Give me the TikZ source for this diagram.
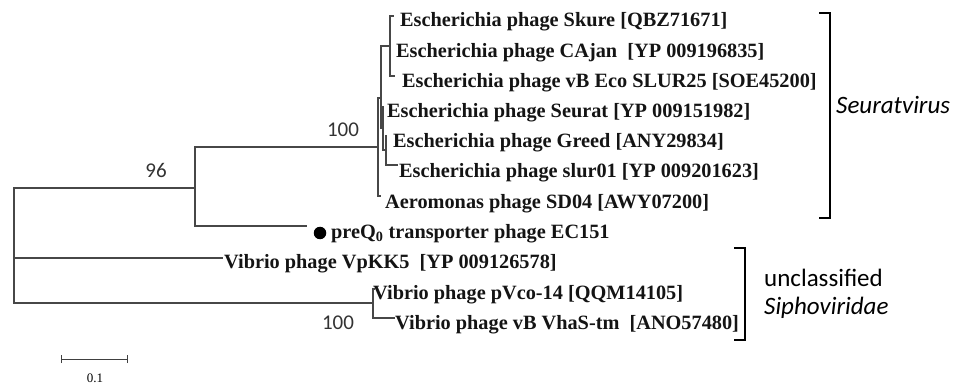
\documentclass[tikz,border=0pt]{standalone}
\usepackage{fontspec}
\setmainfont{Liberation Serif}
\newfontfamily\calfont{Carlito}
\begin{document}
\begin{tikzpicture}[x=1pt,y=-1pt,
  branch/.style={line width=1.1pt, draw=black!72},
  leaf/.style={anchor=west, inner sep=0pt, font=\fontsize{20.3}{22}\selectfont\bfseries, text=black!92},
  boot/.style={inner sep=0pt, font=\calfont\fontsize{21}{23}\selectfont, text=black!80},
  clade/.style={anchor=west, inner sep=0pt, font=\calfont\fontsize{25}{27}\selectfont, text=black},
  brk/.style={line width=2.6pt, draw=black}]
\useasboundingbox (0,0) rectangle (962,385);
% internal nodes
\coordinate (root) at (14,245);
\coordinate (n1) at (195,188);
\coordinate (seu) at (378,147);
\coordinate (nB) at (381,98);
\coordinate (nA) at (390,46);
\coordinate (nC) at (383,128);
\coordinate (nD) at (386,150);
\coordinate (vib) at (373,303);
% leaf ends
\coordinate (lSkure) at (394,16);
\coordinate (lCAjan) at (391,46);
\coordinate (lSlur25) at (395,76);
\coordinate (lSeurat) at (384,107);
\coordinate (lGreed) at (387,136);
\coordinate (lSlur01) at (398,165);
\coordinate (lAero) at (381,196);
\coordinate (lPreq) at (307,226);
\coordinate (lVpkk) at (223,258);
\coordinate (lPvco) at (375,289);
\coordinate (lVhas) at (395,318);
% branches
\draw[branch] (root) |- (n1);
\draw[branch] (root) |- (lVpkk);
\draw[branch] (root) |- (vib);
\draw[branch] (n1) |- (seu);
\draw[branch] (n1) |- (lPreq);
\draw[branch] (seu) |- (nB);
\draw[branch] (seu) |- (lAero);
\draw[branch] (nB) |- (nA);
\draw[branch] (nB) |- (nC);
\draw[branch] (nA) |- (lSkure);
\draw[branch] (nA) |- (lCAjan);
\draw[branch] (nA) |- (lSlur25);
\draw[branch] (nC) |- (lSeurat);
\draw[branch] (nC) |- (nD);
\draw[branch] (nD) |- (lGreed);
\draw[branch] (nD) |- (lSlur01);
\draw[branch] (vib) |- (lPvco);
\draw[branch] (vib) |- (lVhas);
% leaf labels
\node[leaf] (tSkure) at (400,22) {Escherichia phage Skure [QBZ71671]};
\node[leaf] (tCAjan) at (396,53) {Escherichia phage CAjan\ \ [YP 009196835]};
\node[leaf] (tSlur25) at (402,83) {Escherichia phage vB Eco SLUR25 [SOE45200]};
\node[leaf] (tSeurat) at (387,113) {Escherichia phage Seurat [YP 009151982]};
\node[leaf] (tGreed) at (393,143) {Escherichia phage Greed [ANY29834]};
\node[leaf] (tSlur01) at (399,173) {Escherichia phage slur01 [YP 009201623]};
\node[leaf] (tAero) at (385,204) {Aeromonas phage SD04 [AWY07200]};
\node[circle, fill=black, inner sep=0pt, minimum size=12.5pt] (dot) at (320,233) {};
\node[leaf] (tPreq) at (331,234) {preQ\textsubscript{0} transporter phage EC151};
\node[leaf] (tVpkk) at (224,264) {Vibrio phage VpKK5\ \ [YP 009126578]};
\node[leaf] (tPvco) at (373,295) {Vibrio phage pVco-14 [QQM14105]};
\node[leaf] (tVhas) at (395,325) {Vibrio phage vB VhaS-tm\ \ [ANO57480]};
% bootstrap values
\node[boot] (b96) at (156,170) {96};
\node[boot] (b100a) at (343,130) {100};
\node[boot] (b100b) at (338,323) {100};
% clade brackets
\coordinate (sTa) at (819,13);
\coordinate (sTb) at (830,13);
\coordinate (sBb) at (830,218);
\coordinate (sBa) at (819,218);
\draw[brk] (sTa) -- (sTb) -- (sBb) -- (sBa);
\node[clade] (cSeu) at (836,105) {\itshape Seuratvirus};
\coordinate (vTa) at (734,248);
\coordinate (vTb) at (745,248);
\coordinate (vBb) at (745,340);
\coordinate (vBa) at (734,340);
\draw[brk] (vTa) -- (vTb) -- (vBb) -- (vBa);
\node[clade] (cUnc) at (764,278) {unclassified};
\node[clade] (cSip) at (764,308) {\itshape Siphoviridae};
% scale bar
\coordinate (sbL) at (61,359);
\coordinate (sbR) at (127,359);
\draw[line width=1pt, draw=black!75] (sbL) -- (sbR);
\draw[line width=1pt, draw=black!75] ([yshift=-4pt]sbL) -- ([yshift=4pt]sbL);
\draw[line width=1pt, draw=black!75] ([yshift=-4pt]sbR) -- ([yshift=4pt]sbR);
\node[inner sep=0pt, font=\fontsize{13}{15}\selectfont] (sbT) at (95,378) {0.1};
\end{tikzpicture}
\end{document}
